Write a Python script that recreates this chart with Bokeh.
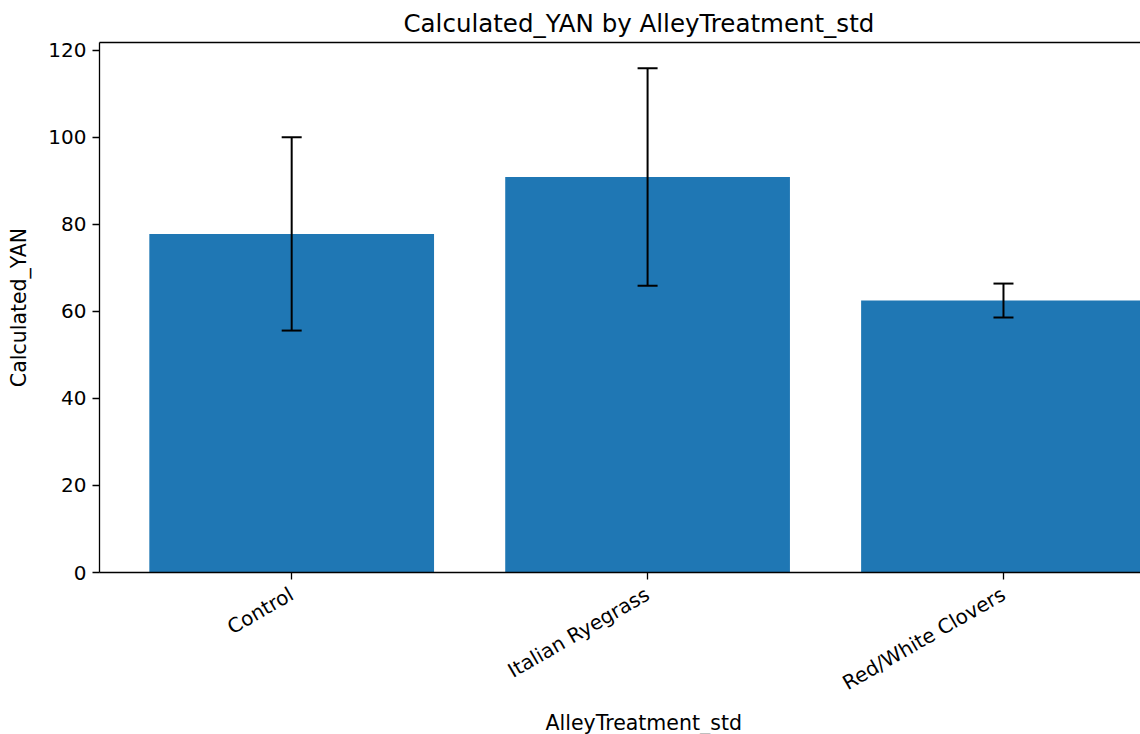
import math
from bokeh.plotting import figure
from bokeh.models import (Range1d, FixedTicker, LinearAxis, Whisker, ColumnDataSource,
                          Title, TeeHead)
from bokeh.embed import file_html
from bokeh.resources import INLINE

categories = ["Control", "Italian Ryegrass", "Red/White Clovers"]
means = [77.8, 90.9, 62.5]
errors = [22.2, 25.0, 3.9]

FONT = "DejaVu Sans"
TICK_FS = "20px"
xs = list(range(len(categories)))
src = ColumnDataSource(dict(
    x=xs, top=means,
    upper=[m + e for m, e in zip(means, errors)],
    lower=[m - e for m, e in zip(means, errors)],
))

p = figure(width=1140, height=734, output_backend="svg", toolbar_location=None,
           x_range=Range1d(-0.54, 2.385), y_range=Range1d(0, 121.8),
           min_border_left=99, min_border_right=0, min_border_top=42,
           min_border_bottom=162)
p.title = None
p.outline_line_color = None
p.grid.visible = False
p.background_fill_color = "white"
p.border_fill_color = "white"

p.vbar(x="x", top="top", width=0.8, source=src, fill_color="#1f77b4",
       line_color=None)

head_u = TeeHead(size=20, line_width=2, line_color="black")
head_l = TeeHead(size=20, line_width=2, line_color="black")
p.add_layout(Whisker(base="x", upper="upper", lower="lower", source=src,
                     upper_head=head_u, lower_head=head_l, level="overlay",
                     line_width=2, line_color="black"))

# x axis
xa = p.xaxis[0]
xa.ticker = FixedTicker(ticks=xs)
xa.major_label_overrides = {i: c for i, c in enumerate(categories)}
xa.major_label_orientation = math.pi / 6
xa.minor_tick_line_color = None
xa.major_tick_out = 7
xa.major_tick_in = 0
xa.major_tick_line_width = 1.3
xa.major_label_standoff = 13
xa.major_label_text_font = FONT
xa.major_label_text_font_size = TICK_FS
xa.major_label_text_color = "black"
xa.axis_line_color = "black"
xa.axis_line_width = 1.3

# y axis
ya = p.yaxis[0]
ya.ticker = FixedTicker(ticks=[0, 20, 40, 60, 80, 100, 120])
ya.minor_tick_line_color = None
ya.major_tick_out = 7
ya.major_tick_in = 0
ya.major_tick_line_width = 1.3
ya.major_label_standoff = 6
ya.major_label_text_font = FONT
ya.major_label_text_font_size = TICK_FS
ya.major_label_text_color = "black"
ya.axis_line_width = 1.3
ya.axis_label = "Calculated_YAN"
ya.axis_label_text_font = FONT
ya.axis_label_text_font_size = "20.5px"
ya.axis_label_text_font_style = "normal"
ya.axis_label_text_color = "black"
ya.axis_label_standoff = 14

# top spine
top = LinearAxis(ticker=FixedTicker(ticks=[]), major_label_text_font_size="0px",
                 major_tick_out=0, major_tick_in=0, minor_tick_line_color=None,
                 axis_line_color="black", axis_line_width=1.3)
p.add_layout(top, "above")

p.add_layout(Title(text="AlleyTreatment_std", align="left", offset=446,
                   text_font=FONT, text_font_size="20.5px",
                   text_font_style="normal", text_color="black", standoff=0),
             "below")
p.add_layout(Title(text="Calculated_YAN by AlleyTreatment_std", align="left",
                   offset=304, text_font=FONT, text_font_size="24.5px",
                   text_font_style="normal", text_color="black"), "above")

open("out.html", "w").write(file_html(p, INLINE))
